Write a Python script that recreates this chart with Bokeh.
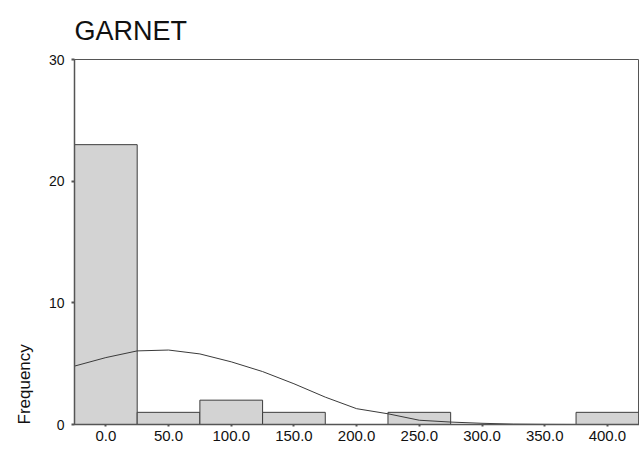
from bokeh.plotting import figure
from bokeh.models import FixedTicker, NumeralTickFormatter, Range1d, Title
from bokeh.embed import file_html
from bokeh.resources import INLINE

# Histogram bins (centers, width 50) and counts
bin_centers = [0, 50, 100, 150, 200, 250, 300, 350, 400]
counts = [23, 1, 2, 1, 0, 1, 0, 0, 1]
bin_width = 50

# Normal curve overlay
curve_x = [-25, 0, 25, 50, 75, 100, 125, 150, 175, 200, 225, 250, 275, 300, 325, 350, 375, 400, 425]
curve_y = [4.8, 5.5, 6.05, 6.12, 5.8, 5.15, 4.35, 3.35, 2.25, 1.3, 0.88, 0.35, 0.2, 0.1, 0.03, 0.01, 0.0, 0.0, 0.0]

y_ticks = [0, 10, 20, 30]
x_ticks = bin_centers

FONT = "Liberation Sans"
AXC = "#555555"

p = figure(width=639, height=449, output_backend="svg", toolbar_location=None,
           x_range=Range1d(-25, 425.6), y_range=Range1d(0, 30),
           min_border_left=73, min_border_right=0, min_border_top=0, min_border_bottom=25,
           title="GARNET")

p.title.text_font = FONT
p.title.text_font_size = "27px"
p.title.text_font_style = "normal"
p.title.text_color = "#111111"
p.title.offset = 0
p.title.standoff = 27

p.background_fill_color = "white"
p.border_fill_color = "white"
p.outline_line_color = AXC
p.outline_line_width = 1
p.xgrid.visible = False
p.ygrid.visible = False

p.vbar(x=bin_centers, top=counts, width=bin_width, bottom=0,
       fill_color="#d3d3d3", line_color="#3c3c3c", line_width=1)
p.line(curve_x, curve_y, line_color="#3a3a3a", line_width=1)

for ax in (p.xaxis[0], p.yaxis[0]):
    ax.axis_line_color = AXC
    ax.axis_line_width = 1.5
    ax.major_tick_line_color = AXC
    ax.major_tick_line_width = 2
    ax.minor_tick_line_color = None
    ax.major_label_text_font = FONT
    ax.major_label_text_color = "#111111"

p.xaxis.ticker = FixedTicker(ticks=x_ticks)
p.xaxis.formatter = NumeralTickFormatter(format="0.0")
p.xaxis.major_tick_in = 0
p.xaxis.major_tick_out = 2
p.xaxis.major_label_standoff = 4
p.xaxis.major_label_text_font_size = "15px"

p.yaxis.ticker = FixedTicker(ticks=y_ticks)
p.yaxis.major_tick_in = 0
p.yaxis.major_tick_out = 3
p.yaxis.major_label_standoff = 7
p.yaxis.major_label_text_font_size = "14px"

freq = Title(text="Frequency", align="left", offset=0, standoff=24,
             text_font=FONT, text_font_size="17px", text_font_style="normal",
             text_color="#111111")
p.add_layout(freq, "left")

open("out.html", "w").write(file_html(p, INLINE))
